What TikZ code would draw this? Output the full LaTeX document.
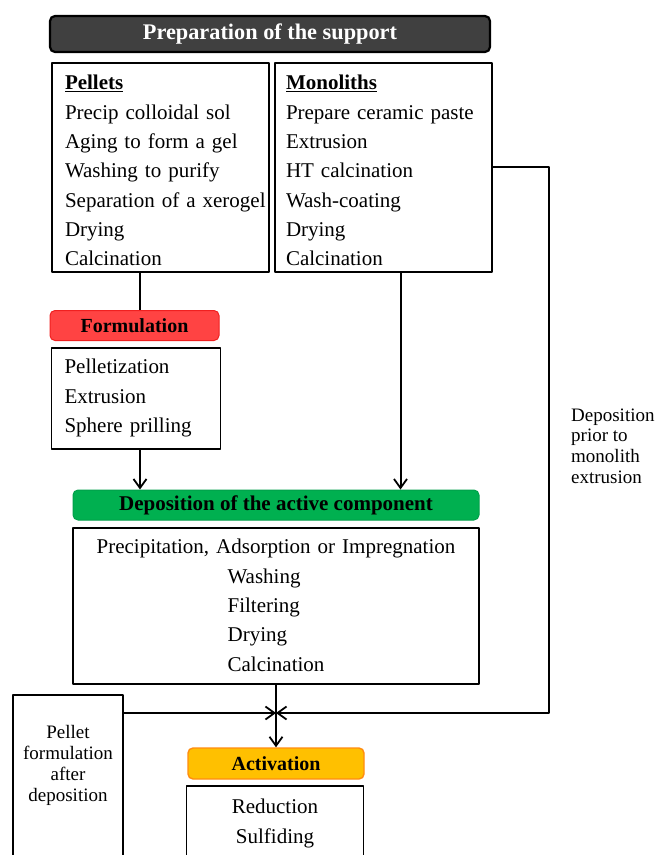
\documentclass[tikz,border=0pt]{standalone}
\usepackage{fontspec}
\setmainfont{Liberation Serif}
\usetikzlibrary{arrows.meta}
\definecolor{hdgray}{HTML}{404040}
\definecolor{formred}{HTML}{FF4343}
\definecolor{formedge}{HTML}{F02020}
\definecolor{depgreen}{HTML}{00B050}
\definecolor{depedge}{HTML}{00A04A}
\definecolor{actgold}{HTML}{FFC000}
\definecolor{actedge}{HTML}{FF8C10}
\begin{document}
\begin{tikzpicture}[x=1pt,y=-1pt,line join=round,>={Straight Barb[length=9pt,width=13pt,line width=1.8pt]},
	listbox/.style={draw,line width=1.9pt,anchor=north,inner ysep=0pt,font=\fontsize{21}{29.3}\selectfont},
	headbox/.style={draw,rounded corners=5pt,inner sep=0pt,minimum height=30pt,font=\fontsize{21}{24}\selectfont\bfseries},
	notetext/.style={inner sep=0pt,font=\fontsize{19}{20.7}\selectfont},
	flow/.style={line width=2pt}]
	\path[use as bounding box] (0,0) rectangle (655,855);
	\clip (0,0) rectangle (655,855);
	% support
	\node[headbox,fill=hdgray,line width=2.2pt,text=white,minimum width=440pt,minimum height=36pt,font=\fontsize{22.3}{26}\selectfont\bfseries] (suphead) at (270,34) {Preparation of the support};
	\node[listbox,align=left,inner xsep=13pt,text width=191pt,text height=27pt,text depth=182pt] (pellets) at (160.5,62)
		{\underline{\textbf{Pellets}}\\\mbox{Precip colloidal sol}\\\mbox{Aging to form a gel}\\\mbox{Washing to purify}\\\mbox{Separation of a xerogel}\\Drying\\Calcination};
	\node[listbox,align=left,inner xsep=11pt,text width=195pt,text height=27pt,text depth=182pt] (monoliths) at (383.5,62)
		{\underline{\textbf{Monoliths}}\\\mbox{Prepare ceramic paste}\\Extrusion\\HT calcination\\Wash-coating\\Drying\\Calcination};
	% formulation
	\node[headbox,fill=formred,draw=formedge,line width=1pt,font=\fontsize{20}{24}\selectfont\bfseries,minimum width=169pt] (formhead) at (134.5,325.5) {Formulation};
	\node[listbox,align=left,inner xsep=13pt,text width=143pt,text height=26pt,text depth=75pt] (formlist) at (136,347)
		{Pelletization\\Extrusion\\Sphere prilling};
	% deposition
	\node[headbox,fill=depgreen,draw=depedge,line width=1pt,minimum width=406pt] (dephead) at (276,505) {Deposition of the active component};
	\node[listbox,align=center,inner xsep=0pt,text width=406pt,text height=26pt,text depth=130pt] (deplist) at (276,527)
		{\mbox{Precipitation, Adsorption or Impregnation}\\
		\begin{tabular}[t]{@{}l@{}}Washing\\Filtering\\Drying\\Calcination\end{tabular}};
	% activation
	\node[headbox,fill=actgold,draw=actedge,line width=1.4pt,font=\fontsize{20}{24}\selectfont\bfseries,minimum width=176pt,minimum height=31pt] (acthead) at (276,763.5) {Activation};
	\node[listbox,align=center,inner xsep=0pt,text width=177pt,text height=28pt,text depth=80pt] (actlist) at (275,785)
		{Reduction\\Sulfiding};
	\node[listbox,notetext,draw,align=center,anchor=north,inner xsep=0pt,text width=110pt,text height=44pt,text depth=120pt] (leftbox) at (68,694)
		{Pellet\\formulation\\after\\deposition};
	\node[notetext,align=left,anchor=west] (sidenote) at (571,446) {Deposition\\prior to\\monolith\\extrusion};
	% connectors
	\coordinate (pelout) at ([xshift=-20.5pt]pellets.south);
	\coordinate (monout) at ([xshift=17pt]monoliths.south);
	\coordinate (join) at (276,713);
	\coordinate (corner) at (549,713);
	\draw[flow] (pelout) -- (pelout |- formhead.north);
	\draw[flow,->] (pelout |- formlist.south) -- (pelout |- dephead.north);
	\draw[flow,->] (monout) -- (monout |- dephead.north);
	\draw[flow,->] (monoliths.east) -| (corner) -- (join);
	\draw[flow,->] (leftbox.east |- join) -- (join);
	\draw[flow,->] (deplist.south) -- (acthead.north);
\end{tikzpicture}
\end{document}
